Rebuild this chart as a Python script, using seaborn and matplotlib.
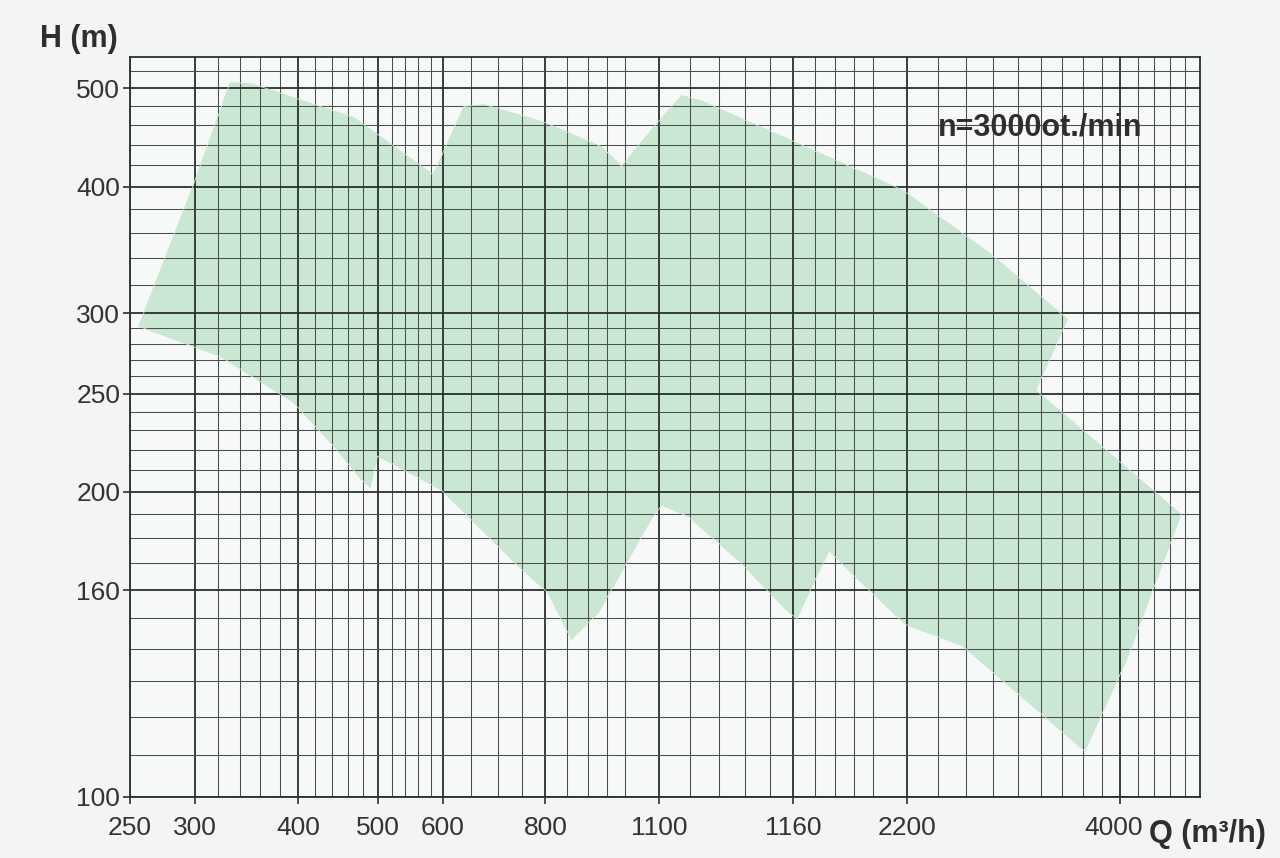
import matplotlib
matplotlib.use("Agg")
import matplotlib.pyplot as plt
import seaborn as sns
import pandas as pd
from matplotlib.ticker import FixedLocator, FixedFormatter, NullFormatter
from matplotlib.transforms import ScaledTranslation

# Axis ticks (flow Q in m3/h, head H in m)
Q_TICKS = [250, 300, 400, 500, 600, 800, 1100, 1600, 2200, 4000]
Q_TICK_LABELS = ["250", "300", "400", "500", "600", "800", "1100", "1160", "2200", "4000"]
Q_MINOR = [320, 340, 360, 380, 420, 440, 460, 480, 520, 540, 560, 580,
           650, 700, 750, 850, 900, 950, 1000, 1200, 1300, 1400, 1500,
           1700, 1800, 1900, 2000, 2400, 2600, 2800, 3000, 3200, 3400,
           3600, 3800, 4200, 4400, 4600, 4800]
H_TICKS = [100, 160, 200, 250, 300, 400, 500]
H_TICK_LABELS = ["100", "160", "200", "250", "300", "400", "500"]
H_MINOR = [110, 120, 130, 140, 150, 170, 180, 190, 210, 220, 230, 240,
           260, 270, 280, 290, 320, 340, 360, 380, 420, 440, 460, 480, 520]

# Outline of the combined operating field of the pump range
Q_FIELD = [256, 298, 331, 353, 400, 468, 495, 584, 637, 674, 797, 936, 990,
           1086, 1171, 1239, 1595, 2173, 2774, 3452, 3157, 4743, 4063, 3622,
           2570, 2191, 1888, 1770, 1673, 1618, 1582, 1375, 1194, 1108, 1076,
           928, 860, 806, 741, 597, 500, 490, 477, 442, 395, 322, 257]
H_FIELD = [291, 400, 507, 505, 488, 468, 453, 411, 480, 482, 463, 438, 419,
           459, 492, 486, 444, 397, 344, 296, 252, 190, 136, 111,
           141, 148, 166, 175, 159, 150, 152, 171, 189, 194, 188,
           152, 143, 159, 169, 201, 217, 202, 206, 222, 245, 272, 291]

field = pd.DataFrame({"Q": Q_FIELD, "H": H_FIELD})

sns.set_theme(style="white")
plt.rcParams["font.family"] = ["Liberation Sans", "DejaVu Sans"]

fig = plt.figure(figsize=(12.8, 8.58), dpi=100, facecolor="#f2f5f4")
ax = fig.add_axes([130 / 1280, 1 - 797 / 858, 1070 / 1280, 740 / 858])
ax.set_facecolor("#f7f9f8")

ax.set_xscale("log")
ax.set_yscale("log")

# operating field
ax.fill(field["Q"], field["H"], color="#c9e7d2", linewidth=0, zorder=0.5)
sns.lineplot(data=field, x="Q", y="H", sort=False, ax=ax,
             color="#c9e7d2", linewidth=0.6, zorder=0.6, estimator=None)

ax.set_xlim(250, 5000)
ax.set_ylim(100, 537)

ax.xaxis.set_major_locator(FixedLocator(Q_TICKS))
ax.xaxis.set_major_formatter(FixedFormatter(Q_TICK_LABELS))
ax.xaxis.set_minor_locator(FixedLocator(Q_MINOR))
ax.xaxis.set_minor_formatter(NullFormatter())
ax.yaxis.set_major_locator(FixedLocator(H_TICKS))
ax.yaxis.set_major_formatter(FixedFormatter(H_TICK_LABELS))
ax.yaxis.set_minor_locator(FixedLocator(H_MINOR))
ax.yaxis.set_minor_formatter(NullFormatter())

ax.grid(which="major", color="#2b2f2d", linewidth=1.3)
ax.grid(which="minor", color="#4a4e4c", linewidth=0.75)

ax.tick_params(which="major", direction="out", length=5, width=1.2,
               color="#2b2f2d", labelsize=19, labelcolor="#333333",
               left=True, bottom=True)
ax.tick_params(axis="x", which="major", pad=9)
ax.tick_params(axis="y", which="major", pad=2)
ax.tick_params(which="minor", length=0)
ax.set_xlabel("")
ax.set_ylabel("")

# nudge the last flow label clear of the axis title
last = ax.get_xticklabels()[-1]
last.set_transform(last.get_transform() + ScaledTranslation(-7 / 100, 0, fig.dpi_scale_trans))

for side in ["left", "right", "top", "bottom"]:
    ax.spines[side].set_visible(True)
    ax.spines[side].set_color("#2b2f2d")
    ax.spines[side].set_linewidth(1.3)

fig.text(79 / 1280, 1 - 39 / 858, "H (m)", fontsize=22, fontweight="bold",
         color="#2e2e2e", ha="center", va="center")
fig.text(1149 / 1280, 1 - 834 / 858, "Q (m³/h)", fontsize=22, fontweight="bold",
         color="#2e2e2e", ha="left", va="center")
ax.text(1040 / 1280, 1 - 127 / 858, "n=3000ot./min", transform=fig.transFigure,
        fontsize=22, fontweight="bold", color="#2e2e2e", ha="center", va="center")

fig.savefig("out.png", dpi=100, facecolor=fig.get_facecolor())
